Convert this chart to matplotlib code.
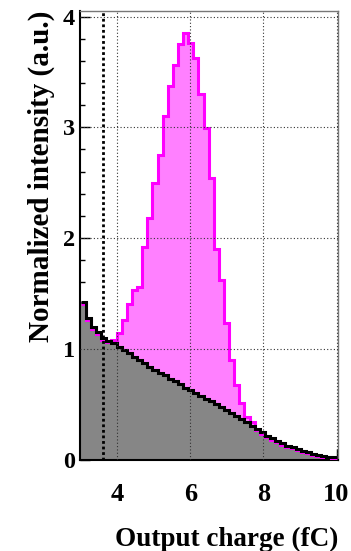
import numpy as np
import matplotlib.pyplot as plt

# binning of both histograms (fC)
bin_lo, bin_hi, n_bins = 3.0, 10.0, 50

# background-like spectrum (black)
black_vals = [1.42, 1.28, 1.20, 1.15, 1.10, 1.07, 1.05, 1.02, 0.99, 0.96,
              0.93, 0.90, 0.87, 0.84, 0.81, 0.785, 0.76, 0.73, 0.705, 0.68,
              0.65, 0.625, 0.60, 0.575, 0.55, 0.525, 0.50, 0.47, 0.445, 0.42,
              0.39, 0.365, 0.335, 0.305, 0.275, 0.245, 0.215, 0.19, 0.165, 0.145,
              0.125, 0.11, 0.095, 0.08, 0.065, 0.05, 0.04, 0.03, 0.025, 0.02]

# spectrum with peak (magenta)
magenta_vals = [1.40, 1.26, 1.18, 1.13, 1.08, 1.06, 1.08, 1.14, 1.26, 1.40,
                1.53, 1.56, 1.92, 2.18, 2.50, 2.75, 3.10, 3.37, 3.56, 3.75,
                3.85, 3.76, 3.63, 3.30, 2.99, 2.54, 1.90, 1.625, 1.23, 0.90,
                0.67, 0.51, 0.385, 0.34, 0.265, 0.235, 0.205, 0.18, 0.155, 0.135,
                0.115, 0.10, 0.085, 0.07, 0.057, 0.043, 0.033, 0.024, 0.019, 0.015]

threshold = 3.6
xticks = [4, 6, 8, 10]
yticks = [0, 1, 2, 3, 4]

edges = np.linspace(bin_lo, bin_hi, n_bins + 1)

plt.rcParams['font.family'] = ['Liberation Serif', 'DejaVu Serif']
plt.rcParams['font.weight'] = 'bold'

fig = plt.figure(figsize=(3.51, 5.51), dpi=100)
ax = fig.add_axes([0.2265, 0.166, 0.7365, 0.814])

ax.stairs(magenta_vals, edges, fill=True, color='#ff80ff', zorder=1)
ax.stairs(black_vals, edges, fill=True, color='#868686', zorder=2)
ax.stairs(magenta_vals, edges, baseline=None, color='#ff00ff', lw=2.2, zorder=3)
ax.stairs(black_vals, edges, baseline=None, color='black', lw=2.2, zorder=4)

# grid on top, ROOT style
for x in xticks:
    ax.axvline(x, color='#333333', lw=0.8, ls=(0, (1, 2)), zorder=5)
for y in yticks[1:]:
    ax.axhline(y, color='#333333', lw=0.8, ls=(0, (1, 2)), zorder=5)

ax.axvline(threshold, color='black', lw=2.0, ls=(0, (1, 1)), zorder=6)

ax.set_xlim(2.965, 10.04)
ax.set_ylim(0, 4.05)
ax.set_xticks(xticks)
ax.set_yticks(yticks)
ax.set_xticks(np.arange(3.5, 10.01, 0.5), minor=True)
ax.set_yticks(np.arange(0, 4.01, 0.2), minor=True)
ax.tick_params(which='both', direction='in', top=False, right=False)
ax.tick_params(axis='x', which='major', length=8, width=1, labelsize=19, pad=17)
ax.tick_params(axis='x', which='minor', length=4, width=1)
ax.tick_params(axis='y', which='major', length=7, width=1, labelsize=17.5, pad=3)
ax.tick_params(axis='y', which='minor', length=3.5, width=1)

for s in ['left', 'bottom']:
    ax.spines[s].set_linewidth(1.5)
for s in ['top', 'right']:
    ax.spines[s].set_color('#777777')
    ax.spines[s].set_linewidth(1)

ax.set_xlabel('Output charge (fC)', fontsize=19.5, fontweight='bold', loc='right', labelpad=15)
ax.set_ylabel('Normalized intensity (a.u.)', fontsize=21, fontweight='bold', loc='top', labelpad=6)

plt.savefig('out.png', dpi=100)
